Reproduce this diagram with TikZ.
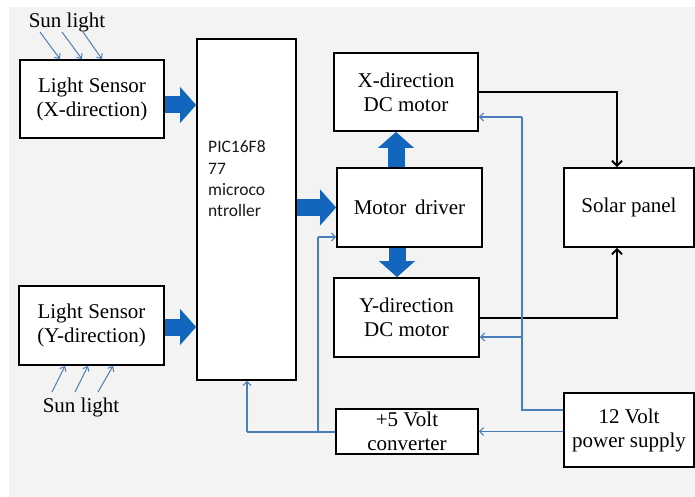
\documentclass[tikz,border=0pt]{standalone}
\usepackage{fontspec}
\setmainfont{Liberation Serif}
\newfontfamily\picfont{Carlito}
\usetikzlibrary{arrows.meta}
\definecolor{pagebg}{RGB}{243,243,243}
\definecolor{busblue}{RGB}{18,102,190}
\definecolor{wireblue}{RGB}{74,126,187}
\definecolor{pictext}{RGB}{25,25,25}

\begin{document}
\begin{tikzpicture}[x=1pt,y=-1pt,
  block/.style={draw=black, line width=1.8pt, fill=white, align=center,
    inner sep=0pt, font=\fontsize{21}{24}\selectfont},
  bigarrow/.style={draw=busblue, line width=17pt,
    -{Triangle[width=36pt,length=16pt,line width=0pt]}},
  wire/.style={draw=wireblue, line width=1.1pt},
  wirearrow/.style={wire, -{Straight Barb[length=4pt,width=8pt]}},
  feed/.style={draw=black, line width=2pt, -{Straight Barb[length=5pt,width=10pt]}},
  ray/.style={draw=wireblue, line width=1pt, -{Straight Barb[length=4pt,width=7pt]}},
  label/.style={inner sep=0pt, anchor=base, font=\fontsize{21}{24}\selectfont}
]
% page and background panel
\useasboundingbox (0,0) rectangle (695,497);
\fill[white] (0,0) rectangle (695,497);
\fill[pagebg] (9,7) rectangle (695,497);

% blocks
\node[block, minimum width=144pt, minimum height=78pt] (sx) at (92,99) {Light Sensor\\(X-direction)};
\node[block, minimum width=145pt, minimum height=79pt] (sy) at (91.5,325.5) {Light Sensor\\(Y-direction)};
\node[block, minimum width=99pt, minimum height=341pt] (pic) at (246.5,209.5) {};
\node[inner sep=0pt, anchor=west, align=left, text=pictext,
  font=\picfont\fontsize{17.5}{21.3}\selectfont] (pictxt) at (208,179) {PIC16F8\\77\\microco\\ntroller};
\node[block, minimum width=144pt, minimum height=78pt] (xm) at (406,92) {X-direction\\DC motor};
\node[block, minimum width=145pt, minimum height=79pt] (md) at (409.5,207.5) {Motor\, driver};
\node[block, minimum width=145pt, minimum height=79pt] (ym) at (406.5,317.5) {Y-direction\\DC motor};
\node[block, minimum width=130pt, minimum height=79pt] (sp) at (629,207.5) {Solar panel};
\node[block, minimum width=142pt, minimum height=45pt] (cv) at (407,431.5) {+5 Volt\\converter};
\node[block, minimum width=130pt, minimum height=74pt] (ps) at (629,430) {12 Volt\\power supply};

% sunlight labels and rays
\node[label] (suntop) at (67,28) {Sun light};
\node[label] (sunbot) at (81,412) {Sun light};
\coordinate (t1) at (40,32); \coordinate (t1e) at (60,0);
\coordinate (t2) at (62,32); \coordinate (t2e) at (82,0);
\coordinate (t3) at (83,32); \coordinate (t3e) at (102,0);
\draw[ray] (t1) -- (t1e |- sx.north);
\draw[ray] (t2) -- (t2e |- sx.north);
\draw[ray] (t3) -- (t3e |- sx.north);
\coordinate (b1) at (52,392); \coordinate (b1e) at (65,0);
\coordinate (b2) at (75,392); \coordinate (b2e) at (88,0);
\coordinate (b3) at (98,392); \coordinate (b3e) at (113,0);
\draw[ray] (b1) -- (b1e |- sy.south);
\draw[ray] (b2) -- (b2e |- sy.south);
\draw[ray] (b3) -- (b3e |- sy.south);

% data paths
\draw[bigarrow] ([yshift=-6pt]sx.east) -- ([yshift=-6pt]sx.east -| pic.west);
\draw[bigarrow] ([yshift=-1.5pt]sy.east) -- ([yshift=-1.5pt]sy.east -| pic.west);
\draw[bigarrow] (pic.east |- md.west) -- (md.west);
\draw[bigarrow] ([xshift=-13.5pt]md.north) -- ([xshift=-13.5pt]md.north |- xm.south);
\draw[bigarrow] ([xshift=-12.5pt]md.south) -- ([xshift=-12.5pt]md.south |- ym.north);

% motor outputs to the panel
\coordinate (pv) at (617,0);
\draw[feed] (xm.east) -- (pv |- xm.east) -- (pv |- sp.north);
\draw[feed] (ym.east) -- (pv |- ym.east) -- (pv |- sp.south);

% supply wiring
\coordinate (bus) at (522,410);
\coordinate (xin) at ([yshift=-25pt]xm.east);
\coordinate (yin) at ([yshift=-19.5pt]ym.east);
\draw[wirearrow] (ps.west |- cv.east) -- (cv.east);
\draw[wire] (ps.west |- bus) -- (bus) -- (bus |- xin);
\draw[wirearrow] (bus |- xin) -- (xin);
\draw[wirearrow] (bus |- yin) -- (yin);

\coordinate (lowbus) at (247,432);
\coordinate (midbus) at (318,432);
\coordinate (mdin) at ([yshift=-29.5pt]md.west);
\draw[wire] (cv.west |- lowbus) -- (lowbus);
\draw[wirearrow] (lowbus) -- (lowbus |- pic.south);
\draw[wire] (midbus) -- (midbus |- mdin);
\draw[wirearrow] (midbus |- mdin) -- (mdin);
\end{tikzpicture}
\end{document}
